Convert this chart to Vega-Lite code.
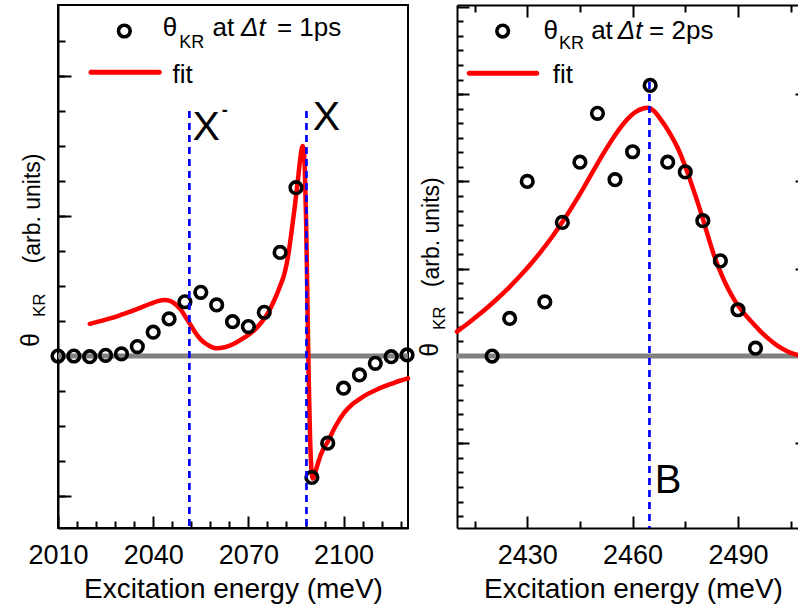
{
  "$schema": "https://vega.github.io/schema/vega-lite/v6.json",
  "background": "white",
  "padding": {"left": 17, "top": 4, "right": 0, "bottom": 0},
  "spacing": 49,
  "bounds": "flush",
  "config": {
    "font": "Liberation Sans",
    "axis": {"domainColor": "black", "domainWidth": 2, "tickColor": "black", "tickWidth": 2, "labelColor": "black", "labelFont": "Liberation Sans", "labelFontSize": 27, "titleColor": "black", "titleFont": "Liberation Sans", "titleFontSize": 28, "titleFontWeight": "normal", "grid": false, "labelFlush": false, "labelOverlap": false, "format": "d"},
    "text": {"font": "Liberation Sans", "color": "black"}
  },
  "datasets": {
    "left_pts": [
      {"energy": 2010, "value": 0}, {"energy": 2015, "value": 0}, {"energy": 2020, "value": -0.02}, {"energy": 2025, "value": 0.02},
      {"energy": 2030, "value": 0.06}, {"energy": 2035, "value": 0.27}, {"energy": 2040, "value": 0.68}, {"energy": 2045, "value": 1.06},
      {"energy": 2050, "value": 1.55}, {"energy": 2055, "value": 1.82}, {"energy": 2060, "value": 1.46}, {"energy": 2065, "value": 0.98},
      {"energy": 2070, "value": 0.84}, {"energy": 2075, "value": 1.25}, {"energy": 2080, "value": 2.96}, {"energy": 2085, "value": 4.81},
      {"energy": 2090, "value": -3.47}, {"energy": 2095, "value": -2.49}, {"energy": 2100, "value": -0.92}, {"energy": 2105, "value": -0.54},
      {"energy": 2110, "value": -0.21}, {"energy": 2115, "value": -0.02}, {"energy": 2120, "value": 0.03}
    ],
    "left_fit": [
      {"energy": 2020.0, "value": 0.92}, {"energy": 2023.0, "value": 0.99}, {"energy": 2026.7, "value": 1.08}, {"energy": 2030.0, "value": 1.18},
      {"energy": 2034.0, "value": 1.31}, {"energy": 2037.0, "value": 1.42}, {"energy": 2039.3, "value": 1.50}, {"energy": 2041.5, "value": 1.57},
      {"energy": 2043.5, "value": 1.60}, {"energy": 2045.5, "value": 1.57}, {"energy": 2047.0, "value": 1.48}, {"energy": 2048.8, "value": 1.31},
      {"energy": 2050.3, "value": 1.10}, {"energy": 2051.5, "value": 0.93}, {"energy": 2053.2, "value": 0.68}, {"energy": 2055.1, "value": 0.46},
      {"energy": 2057.3, "value": 0.31}, {"energy": 2059.8, "value": 0.22}, {"energy": 2062.5, "value": 0.25}, {"energy": 2065.6, "value": 0.36},
      {"energy": 2068.8, "value": 0.53}, {"energy": 2071.9, "value": 0.74}, {"energy": 2074.0, "value": 0.95}, {"energy": 2076.1, "value": 1.22},
      {"energy": 2078.2, "value": 1.60}, {"energy": 2080.0, "value": 2.00}, {"energy": 2081.5, "value": 2.40}, {"energy": 2082.6, "value": 2.90},
      {"energy": 2083.6, "value": 3.55}, {"energy": 2084.6, "value": 4.25}, {"energy": 2085.5, "value": 4.95}, {"energy": 2086.3, "value": 5.60},
      {"energy": 2086.8, "value": 5.92}, {"energy": 2087.1, "value": 6.00}, {"energy": 2087.4, "value": 5.90}, {"energy": 2087.8, "value": 5.30},
      {"energy": 2088.2, "value": 3.80}, {"energy": 2088.6, "value": 1.60}, {"energy": 2089.0, "value": -0.60}, {"energy": 2089.4, "value": -2.20},
      {"energy": 2089.8, "value": -3.15}, {"energy": 2090.3, "value": -3.50}, {"energy": 2090.8, "value": -3.40}, {"energy": 2091.8, "value": -3.10},
      {"energy": 2092.9, "value": -2.80}, {"energy": 2095.0, "value": -2.45}, {"energy": 2097.5, "value": -2.00}, {"energy": 2100.2, "value": -1.62},
      {"energy": 2102.5, "value": -1.40}, {"energy": 2104.9, "value": -1.24}, {"energy": 2107.5, "value": -1.09}, {"energy": 2110.2, "value": -0.97},
      {"energy": 2112.8, "value": -0.87}, {"energy": 2115.5, "value": -0.78}, {"energy": 2118.0, "value": -0.70}, {"energy": 2120.3, "value": -0.64}
    ],
    "left_lines": [{"energy": 2051.4, "top": 7}, {"energy": 2088.3, "top": 7}],
    "left_leg_pt": [{"energy": 2030.9, "value": 9.286}],
    "left_leg_line": [{"energy": 2020.4, "value": 8.106}, {"energy": 2041.9, "value": 8.106}],
    "left_text": [{"energy": 2043.0, "value": 9.143, "t": "θ"}, {"energy": 2058.7, "value": 9.143, "t": "at"}, {"energy": 2079.0, "value": 9.143, "t": "= 1ps"}, {"energy": 2046.1, "value": 7.809, "t": "fit"}],
    "left_sub": [{"energy": 2048.2, "value": 8.791, "t": "KR"}],
    "left_ital": [{"energy": 2067.7, "value": 9.143, "t": "Δt"}],
    "left_big": [{"energy": 2052.4, "value": 6.171, "t": "X"}, {"energy": 2090.25, "value": 6.457, "t": "X"}],
    "left_sup": [{"energy": 2061.6, "value": 6.869, "t": "-"}],
    "left_ytheta": [{"energy": 2004.0, "value": 0.257, "t": "θ"}],
    "left_ysub": [{"energy": 2005.9, "value": 1.114, "t": "KR"}],
    "right_pts": [
      {"energy": 2420, "value": 0}, {"energy": 2425, "value": 0.43}, {"energy": 2430, "value": 2.0}, {"energy": 2435, "value": 0.62},
      {"energy": 2440, "value": 1.53}, {"energy": 2445, "value": 2.22}, {"energy": 2450, "value": 2.78}, {"energy": 2455, "value": 2.02},
      {"energy": 2460, "value": 2.34}, {"energy": 2465, "value": 3.10}, {"energy": 2470, "value": 2.22}, {"energy": 2475, "value": 2.11},
      {"energy": 2480, "value": 1.55}, {"energy": 2485, "value": 1.09}, {"energy": 2490, "value": 0.53}, {"energy": 2495, "value": 0.09}
    ],
    "right_fit": [
      {"energy": 2410, "value": 0.28}, {"energy": 2413, "value": 0.37}, {"energy": 2416, "value": 0.466}, {"energy": 2419, "value": 0.568},
      {"energy": 2422, "value": 0.676}, {"energy": 2425, "value": 0.793}, {"energy": 2428, "value": 0.919}, {"energy": 2431, "value": 1.054},
      {"energy": 2434, "value": 1.201}, {"energy": 2437, "value": 1.36}, {"energy": 2440, "value": 1.534}, {"energy": 2443, "value": 1.723},
      {"energy": 2446, "value": 1.924}, {"energy": 2449, "value": 2.134}, {"energy": 2452, "value": 2.341}, {"energy": 2455, "value": 2.53},
      {"energy": 2458, "value": 2.69}, {"energy": 2461, "value": 2.80}, {"energy": 2463, "value": 2.835}, {"energy": 2464.3, "value": 2.843},
      {"energy": 2466.0, "value": 2.81}, {"energy": 2468.2, "value": 2.70}, {"energy": 2470.5, "value": 2.56}, {"energy": 2472.9, "value": 2.38},
      {"energy": 2475.3, "value": 2.14}, {"energy": 2477.7, "value": 1.86}, {"energy": 2479.6, "value": 1.625}, {"energy": 2481.5, "value": 1.37},
      {"energy": 2483.4, "value": 1.13}, {"energy": 2485.3, "value": 0.935}, {"energy": 2487.2, "value": 0.77}, {"energy": 2489.1, "value": 0.635},
      {"energy": 2491.5, "value": 0.50}, {"energy": 2493.8, "value": 0.395}, {"energy": 2496.0, "value": 0.30}, {"energy": 2498.5, "value": 0.205},
      {"energy": 2501.0, "value": 0.125}, {"energy": 2504.0, "value": 0.055}, {"energy": 2507.1, "value": 0.01}
    ],
    "right_lines": [{"energy": 2464.8, "top": 3.14}],
    "right_leg_pt": [{"energy": 2423.0, "value": 3.723}],
    "right_leg_line": [{"energy": 2413.5, "value": 3.238}, {"energy": 2432.7, "value": 3.238}],
    "right_text": [{"energy": 2434.6, "value": 3.631, "t": "θ"}, {"energy": 2448.2, "value": 3.631, "t": "at"}, {"energy": 2464.7, "value": 3.631, "t": "= 2ps"}, {"energy": 2437.3, "value": 3.131, "t": "fit"}],
    "right_sub": [{"energy": 2439.05, "value": 3.513, "t": "KR"}],
    "right_ital": [{"energy": 2455.8, "value": 3.631, "t": "Δt"}],
    "right_big": [{"energy": 2466.3, "value": -1.573, "t": "B"}],
    "right_ytheta": [{"energy": 2404.73, "value": -0.008, "t": "θ"}],
    "right_ysub": [{"energy": 2406.58, "value": 0.298, "t": "KR"}]
  },
  "hconcat": [
    {
      "width": 350,
      "height": 523,
      "view": {"stroke": "black", "strokeWidth": 2},
      "resolve": {"axis": {"x": "independent", "y": "independent"}},
      "layer": [
        {
          "data": {"values": [{}]},
          "mark": {"type": "rule", "color": "#808080", "strokeWidth": 5},
          "encoding": {
            "y": {"datum": 0, "type": "quantitative", "scale": {"domain": [-4.914, 10.029], "nice": false, "zero": false},
              "axis": {"orient": "left", "values": [-4, 0, 4, 8], "tickSize": -13, "labels": false, "title": "(arb. units)", "titleFontSize": 23, "titleAngle": 270, "titleAlign": "center", "titleBaseline": "alphabetic", "titleX": -19, "titleY": 203}}
          }
        },
        {
          "data": {"name": "left_fit"},
          "mark": {"type": "line", "color": "#ff0000", "strokeWidth": 4.5, "interpolate": "monotone", "strokeCap": "round", "strokeJoin": "round"},
          "encoding": {
            "x": {"field": "energy", "type": "quantitative", "scale": {"domain": [2010, 2120.3], "nice": false, "zero": false},
              "axis": {"orient": "bottom", "values": [2010, 2040, 2070, 2100], "tickSize": -12, "labelPadding": 47, "labelBaseline": "alphabetic", "title": "Excitation energy (meV)", "titleBaseline": "alphabetic", "titleAlign": "center", "titleX": 175, "titleY": 69}},
            "y": {"field": "value", "type": "quantitative", "scale": {"domain": [-4.914, 10.029], "nice": false, "zero": false},
              "axis": {"orient": "left", "values": [-4, -3, -2, -1, 0, 1, 2, 3, 4, 5, 6, 7, 8, 9], "tickSize": -7, "labels": false, "domain": false, "title": null}}
          }
        },
        {
          "data": {"name": "left_pts"},
          "mark": {"type": "point", "shape": "circle", "filled": false, "stroke": "black", "strokeWidth": 3.6, "size": 135, "opacity": 1},
          "encoding": {
            "x": {"field": "energy", "type": "quantitative", "scale": {"domain": [2010, 2120.3], "nice": false, "zero": false},
              "axis": {"orient": "bottom", "values": [2016, 2022, 2028, 2034, 2046, 2052, 2058, 2064, 2076, 2082, 2088, 2094, 2106, 2112, 2118], "tickSize": -7, "labels": false, "domain": false, "title": null}},
            "y": {"field": "value", "type": "quantitative", "scale": {"domain": [-4.914, 10.029], "nice": false, "zero": false}, "axis": null}
          }
        },
        {
          "data": {"name": "left_lines"},
          "mark": {"type": "rule", "color": "#0000ff", "strokeWidth": 2.7, "strokeDash": [7, 5]},
          "encoding": {
            "x": {"field": "energy", "type": "quantitative", "scale": {"domain": [2010, 2120.3], "nice": false, "zero": false}, "axis": null},
            "y": {"field": "top", "type": "quantitative", "scale": {"domain": [-4.914, 10.029], "nice": false, "zero": false}, "axis": null},
            "y2": {"datum": -4.914}
          }
        },
        {
          "data": {"name": "left_leg_pt"},
          "mark": {"type": "point", "shape": "circle", "filled": false, "stroke": "black", "strokeWidth": 3.6, "size": 135, "opacity": 1},
          "encoding": {
            "x": {"field": "energy", "type": "quantitative", "scale": {"domain": [2010, 2120.3], "nice": false, "zero": false}, "axis": null},
            "y": {"field": "value", "type": "quantitative", "scale": {"domain": [-4.914, 10.029], "nice": false, "zero": false}, "axis": null}
          }
        },
        {
          "data": {"name": "left_leg_line"},
          "mark": {"type": "line", "color": "#ff0000", "strokeWidth": 5, "strokeCap": "round"},
          "encoding": {
            "x": {"field": "energy", "type": "quantitative", "scale": {"domain": [2010, 2120.3], "nice": false, "zero": false}, "axis": null},
            "y": {"field": "value", "type": "quantitative", "scale": {"domain": [-4.914, 10.029], "nice": false, "zero": false}, "axis": null}
          }
        },
        {
          "data": {"name": "left_text"},
          "mark": {"type": "text", "align": "left", "baseline": "alphabetic", "fontSize": 26},
          "encoding": {
            "x": {"field": "energy", "type": "quantitative", "scale": {"domain": [2010, 2120.3], "nice": false, "zero": false}, "axis": null},
            "y": {"field": "value", "type": "quantitative", "scale": {"domain": [-4.914, 10.029], "nice": false, "zero": false}, "axis": null},
            "text": {"field": "t"}
          }
        },
        {
          "data": {"name": "left_sub"},
          "mark": {"type": "text", "align": "left", "baseline": "alphabetic", "fontSize": 18},
          "encoding": {
            "x": {"field": "energy", "type": "quantitative", "scale": {"domain": [2010, 2120.3], "nice": false, "zero": false}, "axis": null},
            "y": {"field": "value", "type": "quantitative", "scale": {"domain": [-4.914, 10.029], "nice": false, "zero": false}, "axis": null},
            "text": {"field": "t"}
          }
        },
        {
          "data": {"name": "left_ital"},
          "mark": {"type": "text", "align": "left", "baseline": "alphabetic", "fontSize": 26, "fontStyle": "italic"},
          "encoding": {
            "x": {"field": "energy", "type": "quantitative", "scale": {"domain": [2010, 2120.3], "nice": false, "zero": false}, "axis": null},
            "y": {"field": "value", "type": "quantitative", "scale": {"domain": [-4.914, 10.029], "nice": false, "zero": false}, "axis": null},
            "text": {"field": "t"}
          }
        },
        {
          "data": {"name": "left_big"},
          "mark": {"type": "text", "align": "left", "baseline": "alphabetic", "fontSize": 41},
          "encoding": {
            "x": {"field": "energy", "type": "quantitative", "scale": {"domain": [2010, 2120.3], "nice": false, "zero": false}, "axis": null},
            "y": {"field": "value", "type": "quantitative", "scale": {"domain": [-4.914, 10.029], "nice": false, "zero": false}, "axis": null},
            "text": {"field": "t"}
          }
        },
        {
          "data": {"name": "left_sup"},
          "mark": {"type": "text", "align": "left", "baseline": "alphabetic", "fontSize": 18, "fontWeight": "bold"},
          "encoding": {
            "x": {"field": "energy", "type": "quantitative", "scale": {"domain": [2010, 2120.3], "nice": false, "zero": false}, "axis": null},
            "y": {"field": "value", "type": "quantitative", "scale": {"domain": [-4.914, 10.029], "nice": false, "zero": false}, "axis": null},
            "text": {"field": "t"}
          }
        },
        {
          "data": {"name": "left_ytheta"},
          "mark": {"type": "text", "align": "left", "baseline": "alphabetic", "fontSize": 25, "angle": 270},
          "encoding": {
            "x": {"field": "energy", "type": "quantitative", "scale": {"domain": [2010, 2120.3], "nice": false, "zero": false}, "axis": null},
            "y": {"field": "value", "type": "quantitative", "scale": {"domain": [-4.914, 10.029], "nice": false, "zero": false}, "axis": null},
            "text": {"field": "t"}
          }
        },
        {
          "data": {"name": "left_ysub"},
          "mark": {"type": "text", "align": "left", "baseline": "alphabetic", "fontSize": 17, "angle": 270},
          "encoding": {
            "x": {"field": "energy", "type": "quantitative", "scale": {"domain": [2010, 2120.3], "nice": false, "zero": false}, "axis": null},
            "y": {"field": "value", "type": "quantitative", "scale": {"domain": [-4.914, 10.029], "nice": false, "zero": false}, "axis": null},
            "text": {"field": "t"}
          }
        }
      ]
    },
    {
      "width": 341,
      "height": 523,
      "view": {"stroke": null},
      "resolve": {"axis": {"x": "independent", "y": "independent"}},
      "layer": [
        {
          "data": {"values": [{}]},
          "mark": {"type": "rule", "color": "#808080", "strokeWidth": 5},
          "encoding": {
            "y": {"datum": 0, "type": "quantitative", "scale": {"domain": [-1.970, 4.021], "nice": false, "zero": false},
              "axis": {"orient": "left", "values": [-1, 0, 1, 2, 3, 4], "tickSize": -12, "labels": false, "title": "(arb. units)", "titleFontSize": 23, "titleAngle": 270, "titleAlign": "center", "titleBaseline": "alphabetic", "titleX": -18.5, "titleY": 226.7}}
          }
        },
        {
          "data": {"name": "right_fit"},
          "mark": {"type": "line", "color": "#ff0000", "strokeWidth": 4.5, "interpolate": "monotone", "strokeCap": "round", "strokeJoin": "round"},
          "encoding": {
            "x": {"field": "energy", "type": "quantitative", "scale": {"domain": [2410, 2507.1], "nice": false, "zero": false},
              "axis": {"orient": "bottom", "values": [2430, 2460, 2490], "tickSize": -12, "labelPadding": 47, "labelBaseline": "alphabetic", "title": "Excitation energy (meV)", "titleBaseline": "alphabetic", "titleAlign": "center", "titleX": 176, "titleY": 69}},
            "y": {"field": "value", "type": "quantitative", "scale": {"domain": [-1.970, 4.021], "nice": false, "zero": false},
              "axis": {"orient": "left", "values": [-1.8333, -1.6667, -1.5, -1.3333, -1.1667, -1, -0.8333, -0.6667, -0.5, -0.3333, -0.1667, 0, 0.1667, 0.3333, 0.5, 0.6667, 0.8333, 1, 1.1667, 1.3333, 1.5, 1.6667, 1.8333, 2, 2.1667, 2.3333, 2.5, 2.6667, 2.8333, 3, 3.1667, 3.3333, 3.5, 3.6667, 3.8333], "tickSize": -6, "labels": false, "domain": false, "title": null}}
          }
        },
        {
          "data": {"name": "right_pts"},
          "mark": {"type": "point", "shape": "circle", "filled": false, "stroke": "black", "strokeWidth": 3.6, "size": 135, "opacity": 1},
          "encoding": {
            "x": {"field": "energy", "type": "quantitative", "scale": {"domain": [2410, 2507.1], "nice": false, "zero": false},
              "axis": {"orient": "bottom", "values": [2415, 2445, 2475, 2505], "tickSize": -7, "labels": false, "domain": false, "title": null}},
            "y": {"field": "value", "type": "quantitative", "scale": {"domain": [-1.970, 4.021], "nice": false, "zero": false},
              "axis": {"orient": "right", "values": [-1, 0, 1, 2, 3], "tickSize": -3, "labels": false, "domain": false, "title": null}}
          }
        },
        {
          "data": {"name": "right_lines"},
          "mark": {"type": "rule", "color": "#0000ff", "strokeWidth": 2.7, "strokeDash": [7, 5]},
          "encoding": {
            "x": {"field": "energy", "type": "quantitative", "scale": {"domain": [2410, 2507.1], "nice": false, "zero": false},
              "axis": {"orient": "top", "values": [2430, 2460, 2490], "tickSize": -12, "labels": false, "domain": true, "title": null}},
            "y": {"field": "top", "type": "quantitative", "scale": {"domain": [-1.970, 4.021], "nice": false, "zero": false}, "axis": null},
            "y2": {"datum": -1.970}
          }
        },
        {
          "data": {"name": "right_leg_pt"},
          "mark": {"type": "point", "shape": "circle", "filled": false, "stroke": "black", "strokeWidth": 3.6, "size": 135, "opacity": 1},
          "encoding": {
            "x": {"field": "energy", "type": "quantitative", "scale": {"domain": [2410, 2507.1], "nice": false, "zero": false},
              "axis": {"orient": "top", "values": [2415, 2445, 2475, 2505], "tickSize": -7, "labels": false, "domain": false, "title": null}},
            "y": {"field": "value", "type": "quantitative", "scale": {"domain": [-1.970, 4.021], "nice": false, "zero": false}, "axis": null}
          }
        },
        {
          "data": {"name": "right_leg_line"},
          "mark": {"type": "line", "color": "#ff0000", "strokeWidth": 5, "strokeCap": "round"},
          "encoding": {
            "x": {"field": "energy", "type": "quantitative", "scale": {"domain": [2410, 2507.1], "nice": false, "zero": false}, "axis": null},
            "y": {"field": "value", "type": "quantitative", "scale": {"domain": [-1.970, 4.021], "nice": false, "zero": false}, "axis": null}
          }
        },
        {
          "data": {"name": "right_text"},
          "mark": {"type": "text", "align": "left", "baseline": "alphabetic", "fontSize": 26},
          "encoding": {
            "x": {"field": "energy", "type": "quantitative", "scale": {"domain": [2410, 2507.1], "nice": false, "zero": false}, "axis": null},
            "y": {"field": "value", "type": "quantitative", "scale": {"domain": [-1.970, 4.021], "nice": false, "zero": false}, "axis": null},
            "text": {"field": "t"}
          }
        },
        {
          "data": {"name": "right_sub"},
          "mark": {"type": "text", "align": "left", "baseline": "alphabetic", "fontSize": 18},
          "encoding": {
            "x": {"field": "energy", "type": "quantitative", "scale": {"domain": [2410, 2507.1], "nice": false, "zero": false}, "axis": null},
            "y": {"field": "value", "type": "quantitative", "scale": {"domain": [-1.970, 4.021], "nice": false, "zero": false}, "axis": null},
            "text": {"field": "t"}
          }
        },
        {
          "data": {"name": "right_ital"},
          "mark": {"type": "text", "align": "left", "baseline": "alphabetic", "fontSize": 26, "fontStyle": "italic"},
          "encoding": {
            "x": {"field": "energy", "type": "quantitative", "scale": {"domain": [2410, 2507.1], "nice": false, "zero": false}, "axis": null},
            "y": {"field": "value", "type": "quantitative", "scale": {"domain": [-1.970, 4.021], "nice": false, "zero": false}, "axis": null},
            "text": {"field": "t"}
          }
        },
        {
          "data": {"name": "right_big"},
          "mark": {"type": "text", "align": "left", "baseline": "alphabetic", "fontSize": 40},
          "encoding": {
            "x": {"field": "energy", "type": "quantitative", "scale": {"domain": [2410, 2507.1], "nice": false, "zero": false}, "axis": null},
            "y": {"field": "value", "type": "quantitative", "scale": {"domain": [-1.970, 4.021], "nice": false, "zero": false}, "axis": null},
            "text": {"field": "t"}
          }
        },
        {
          "data": {"name": "right_ytheta"},
          "mark": {"type": "text", "align": "left", "baseline": "alphabetic", "fontSize": 25, "angle": 270},
          "encoding": {
            "x": {"field": "energy", "type": "quantitative", "scale": {"domain": [2410, 2507.1], "nice": false, "zero": false}, "axis": null},
            "y": {"field": "value", "type": "quantitative", "scale": {"domain": [-1.970, 4.021], "nice": false, "zero": false}, "axis": null},
            "text": {"field": "t"}
          }
        },
        {
          "data": {"name": "right_ysub"},
          "mark": {"type": "text", "align": "left", "baseline": "alphabetic", "fontSize": 17, "angle": 270},
          "encoding": {
            "x": {"field": "energy", "type": "quantitative", "scale": {"domain": [2410, 2507.1], "nice": false, "zero": false}, "axis": null},
            "y": {"field": "value", "type": "quantitative", "scale": {"domain": [-1.970, 4.021], "nice": false, "zero": false}, "axis": null},
            "text": {"field": "t"}
          }
        }
      ]
    }
  ]
}
